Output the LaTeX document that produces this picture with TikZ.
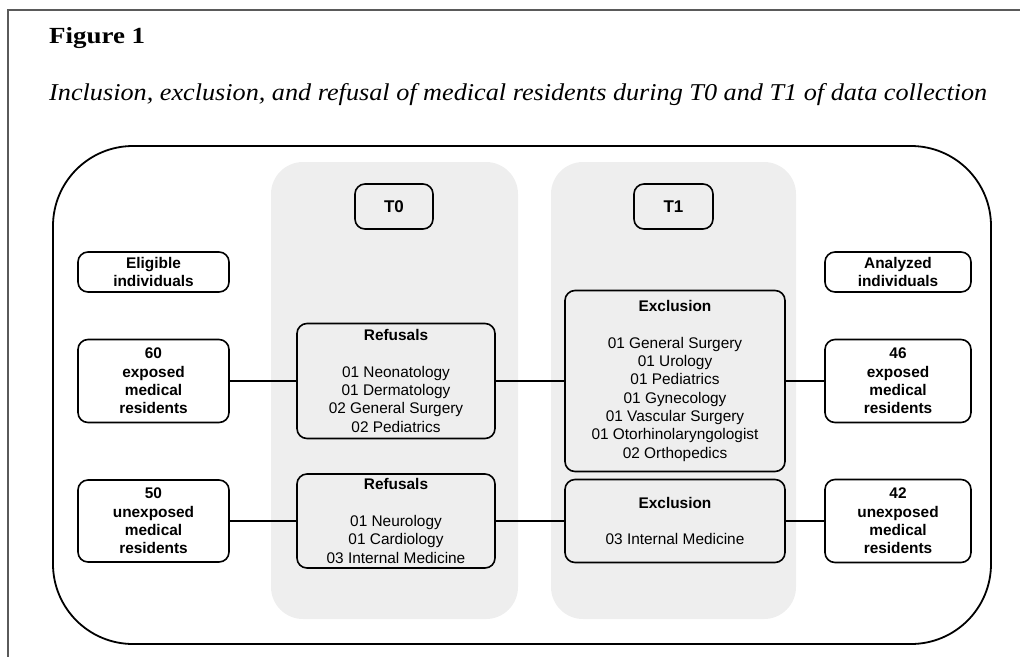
\documentclass[tikz,border=0pt]{standalone}
\usepackage{fontspec}
\usepackage{xcolor}
\usepackage{tikz}
\usetikzlibrary{positioning}
\newfontfamily\arialfont{Liberation Sans}
\newfontfamily\titlefont{Liberation Serif}
\definecolor{panelgray}{HTML}{EEEEEE}
\definecolor{framegray}{HTML}{5A5A5A}
\tikzset{
  box/.style={rectangle, draw, line width=1.6pt, rounded corners=10pt, inner sep=0pt, align=center, font=\arialfont\fontsize{15.4}{18.3}\selectfont},
  head/.style={box, font=\arialfont\bfseries\fontsize{15.4}{18.3}\selectfont},
  panel/.style={fill=panelgray, rounded corners=32pt},
  link/.style={line width=1.5pt},
}

\begin{document}
\begin{tikzpicture}[x=1pt, y=-1pt]
    \useasboundingbox (0,0) rectangle (1020,657);
    \draw[framegray, line width=2pt] (1020,9.5) -- (7.5,9.5) -- (7.5,657);
    \node[anchor=base west, inner sep=0pt] (fig) at (49,43) {\resizebox{96pt}{16pt}{\titlefont\bfseries Figure 1}};
    \node[anchor=base west, inner sep=0pt] (cap) at (49,100) {\resizebox{938pt}{17pt}{\titlefont\itshape Inclusion, exclusion, and refusal of medical residents during T0 and T1 of data collection}};

    \draw[line width=1.8pt, rounded corners=80pt] (53,146) rectangle (991,644);
    \fill[panel] (271,162) rectangle (518,619);
    \fill[panel] (551,162) rectangle (796,619);

    \node[head, minimum width=78pt, minimum height=45pt, font=\arialfont\bfseries\fontsize{17}{20}\selectfont] (t0) at (394,206.5) {T0};
    \node[head, minimum width=79pt, minimum height=45pt, font=\arialfont\bfseries\fontsize{17}{20}\selectfont] (t1) at (673.5,206.5) {T1};

    \node[head, minimum width=151pt, minimum height=40pt] (eligible) at (153.5,272) {Eligible\\individuals};
    \node[head, minimum width=146pt, minimum height=40pt] (analyzed) at (898,272) {Analyzed\\individuals};

    \node[head, minimum width=151pt, minimum height=83pt] (exp60) at (153.5,381) {60\\exposed\\medical\\residents};
    \node[box, minimum width=198pt, minimum height=115pt] (ref0) at (396,381) {\textbf{Refusals}\\[18.3pt]01 Neonatology\\01 Dermatology\\02 General Surgery\\02 Pediatrics};
    \node[box, minimum width=220pt, minimum height=181pt] (exc0) at (675,381) {\textbf{Exclusion}\\[18.3pt]01 General Surgery\\01 Urology\\01 Pediatrics\\01 Gynecology\\01 Vascular Surgery\\01 Otorhinolaryngologist\\02 Orthopedics};
    \node[head, minimum width=146pt, minimum height=83pt] (exp46) at (898,381) {46\\exposed\\medical\\residents};

    \node[head, minimum width=151pt, minimum height=82pt] (unexp50) at (153.5,521) {50\\unexposed\\medical\\residents};
    \node[box, minimum width=198pt, minimum height=94pt] (ref1) at (396,521) {\textbf{Refusals}\\[18.3pt]01 Neurology\\01 Cardiology\\03 Internal Medicine};
    \node[box, minimum width=220pt, minimum height=83pt] (exc1) at (675,521) {\textbf{Exclusion}\\[18.3pt]03 Internal Medicine};
    \node[head, minimum width=146pt, minimum height=83pt] (unexp42) at (898,521) {42\\unexposed\\medical\\residents};

    \draw[link] (exp60) -- (ref0);
    \draw[link] (ref0) -- (exc0);
    \draw[link] (exc0) -- (exp46);
    \draw[link] (unexp50) -- (ref1);
    \draw[link] (ref1) -- (exc1);
    \draw[link] (exc1) -- (unexp42);
  \end{tikzpicture}
\end{document}
